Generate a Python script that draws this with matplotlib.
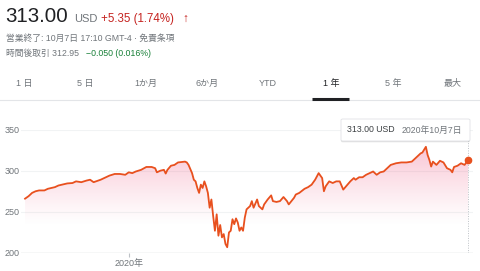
import matplotlib
matplotlib.use("Agg")
import matplotlib.pyplot as plt
import numpy as np
from matplotlib.patches import FancyBboxPatch
from matplotlib.lines import Line2D

FONT = ['Liberation Sans', 'Noto Sans CJK JP', 'DejaVu Sans']
plt.rcParams['font.family'] = FONT

# ---- data (trading-day index since 2019-10-08, close) ----
day = [0, 2, 4, 6, 8, 9, 11, 13, 15, 17, 19, 21, 24, 27, 29, 32, 35, 37, 39, 41,
       43, 45, 48, 51, 54, 57, 59, 61, 63, 66, 69, 72, 74, 75, 77, 79, 80, 81, 83, 85,
       87, 89, 91, 92, 93, 95, 96, 97, 98, 99, 100, 101, 102, 103, 104, 105, 106, 107, 108, 109,
       110, 111, 112, 113, 114, 115, 116, 117, 118, 119, 120, 121, 122, 123, 124, 125, 126, 128, 129, 130,
       132, 133, 135, 136, 138, 140, 141, 143, 145, 147, 149, 150, 153, 154, 156, 159, 161, 163, 165, 167,
       169, 170, 171, 173, 175, 177, 179, 181, 183, 185, 187, 188, 190, 192, 194, 196, 198, 200, 202, 204,
       206, 208, 211, 214, 217, 220, 222, 225, 226, 228, 229, 230, 231, 232, 234, 236, 238, 240, 242, 243,
       244, 246, 248, 250, 252]
close = [266, 269, 273, 275, 276, 276, 276, 278, 279, 280, 282, 283, 284.5, 285, 287, 286, 288, 289, 286, 287.5,
         289, 291, 294, 296, 296, 295, 298, 297, 299, 301, 304.5, 304.5, 303, 298, 300, 301, 296.5, 301, 306, 307,
         310, 310.5, 311, 310, 307, 297, 289, 287, 279, 273, 283, 279, 287, 281, 273, 255, 265, 245, 227, 247,
         221, 234, 219, 223, 211, 207, 225, 227, 241, 235, 242, 237, 227, 231, 227, 243, 253, 257, 263, 255,
         265, 257, 253, 259, 265, 270, 263, 262, 263, 268, 263, 259, 267, 271, 273, 278, 280, 283, 289, 297,
         291, 275, 281, 287, 285, 287, 287, 277, 282, 287, 291, 289, 292, 292, 295, 297, 299, 295, 298, 299,
         303, 307, 309, 310, 310, 311, 315, 321, 322, 329, 319, 313, 305, 311, 307, 312, 310, 303, 301, 298,
         304.5, 306, 309, 307, 313]
yticks = [200, 250, 300, 350]
year_tick_day = 59
year_label = "2020年"
tabs = ["1 日", "5 日", "1か月", "6か月", "YTD", "1 年", "5 年", "最大"]
active_tab = "1 年"
price = "313.00"
currency = "USD"
change = "+5.35 (1.74%)"
status = "営業終了: 10月7日 17:10 GMT-4 · 免責条項"
after_hours = "時間後取引 312.95"
after_change = "−0.050 (0.016%)"
tooltip_price = "313.00 USD"
tooltip_date = "2020年10月7日"

W, H = 480, 271
fig = plt.figure(figsize=(W / 100, H / 100), dpi=100)
fig.patch.set_facecolor('white')

def fx(px):
    return px / W

def fy(py):
    return 1 - py / H

GRAY = '#70757a'
RED = '#c5221f'
GREEN = '#188038'
LINE = '#e8501e'

# header
fig.text(fx(5), fy(22), price, fontsize=14.8, color='#202124', va='baseline', ha='left')
fig.text(fx(74), fy(22), currency, fontsize=8.0, color=GRAY, va='baseline', ha='left')
fig.text(fx(101), fy(22), change, fontsize=8.3, color=RED, va='baseline', ha='left')
fig.text(fx(182), fy(22), "↑", fontsize=8.5, color=RED, va='baseline', ha='left', fontweight='bold')
fig.text(fx(6), fy(38), status, fontsize=6.3, color=GRAY, va='center', ha='left')
fig.text(fx(6), fy(53), after_hours, fontsize=6.3, color=GRAY, va='center', ha='left')
fig.text(fx(86), fy(53), after_change, fontsize=6.3, color=GREEN, va='center', ha='left')

# tabs
tab_x = [24, 85, 146, 207, 268, 331, 393, 453]
for t, x in zip(tabs, tab_x):
    col = '#202124' if t == active_tab else GRAY
    fig.text(fx(x), fy(82.5), t, fontsize=6.5, color=col, va='center_baseline', ha='center')
fig.add_artist(Line2D([0, 1], [fy(100), fy(100)], color='#e3e5e8', lw=0.8, transform=fig.transFigure))
ai = tabs.index(active_tab)
fig.add_artist(Line2D([fx(tab_x[ai] - 19), fx(tab_x[ai] + 18)], [fy(98.5), fy(98.5)],
                      color='#202124', lw=2.2, transform=fig.transFigure, solid_capstyle='butt'))

# chart axes
ax = fig.add_axes([fx(21), fy(253), fx(473) - fx(21), fy(129.5) - fy(253)])
ax.set_xlim(-2.3, 254.8)
ax.set_ylim(200, 350)
for s in ax.spines.values():
    s.set_visible(False)
ax.axhline(200, color='#bdc1c6', lw=0.9, zorder=1)
for yv in yticks[1:]:
    ax.axhline(yv, color='#f1f3f4', lw=0.8, zorder=0)
ax.set_yticks(yticks)
ax.set_yticklabels([str(v) for v in yticks], fontsize=6.5, color=GRAY)
ax.tick_params(axis='y', length=0, pad=1)
ax.set_xticks([year_tick_day])
ax.set_xticklabels([year_label], fontsize=6.5, color=GRAY)
ax.tick_params(axis='x', length=3, color='#bdc1c6', pad=1)

x = np.array(day, dtype=float)
y = np.array(close, dtype=float)

# gradient fill
poly = ax.fill_between(x, y, 200, color='none', lw=0)
ny = 256
grad = np.zeros((ny, 2, 4))
rgb = matplotlib.colors.to_rgb('#ef5b85')
vals = np.linspace(335, 200, ny)
alpha = np.clip((vals - 232) / (335 - 232), 0, 1) ** 1.2 * 0.38
grad[:, :, 0] = rgb[0]
grad[:, :, 1] = rgb[1]
grad[:, :, 2] = rgb[2]
grad[:, :, 3] = alpha[:, None]
im = ax.imshow(grad, extent=[x[0], x[-1], 200, 335], aspect='auto', origin='upper', zorder=1)
path = poly.get_paths()[0]
im.set_clip_path(path, transform=ax.transData)

ax.plot(x, y, color=LINE, lw=1.3, zorder=3, solid_joinstyle='round')
ax.plot([x[-1]], [y[-1]], 'o', color=LINE, ms=4.5, zorder=4)
ax.plot([x[-1], x[-1]], [200, 337], color='#bdc1c6', lw=0.7, ls=(0, (1, 1.5)), zorder=2)

# tooltip with soft shadow
for off, a in [(1.5, 0.06), (0.8, 0.08)]:
    sh = FancyBboxPatch((fx(341), fy(141 + off)), fx(470) - fx(341), fy(119) - fy(141),
                        boxstyle='round,pad=0,rounding_size=0.004', transform=fig.transFigure,
                        facecolor='black', edgecolor='none', alpha=a, zorder=9)
    fig.add_artist(sh)
box = FancyBboxPatch((fx(341), fy(141)), fx(470) - fx(341), fy(119) - fy(141),
                     boxstyle='round,pad=0,rounding_size=0.004', transform=fig.transFigure,
                     facecolor='white', edgecolor='#e0e2e5', lw=0.6, zorder=10)
fig.add_artist(box)
fig.text(fx(347), fy(130), tooltip_price, fontsize=6.3, color='#3c4043', va='center', ha='left', zorder=11)
fig.text(fx(402), fy(130), tooltip_date, fontsize=6.3, color=GRAY, va='center', ha='left', zorder=11)

fig.savefig('out.png', dpi=100)
